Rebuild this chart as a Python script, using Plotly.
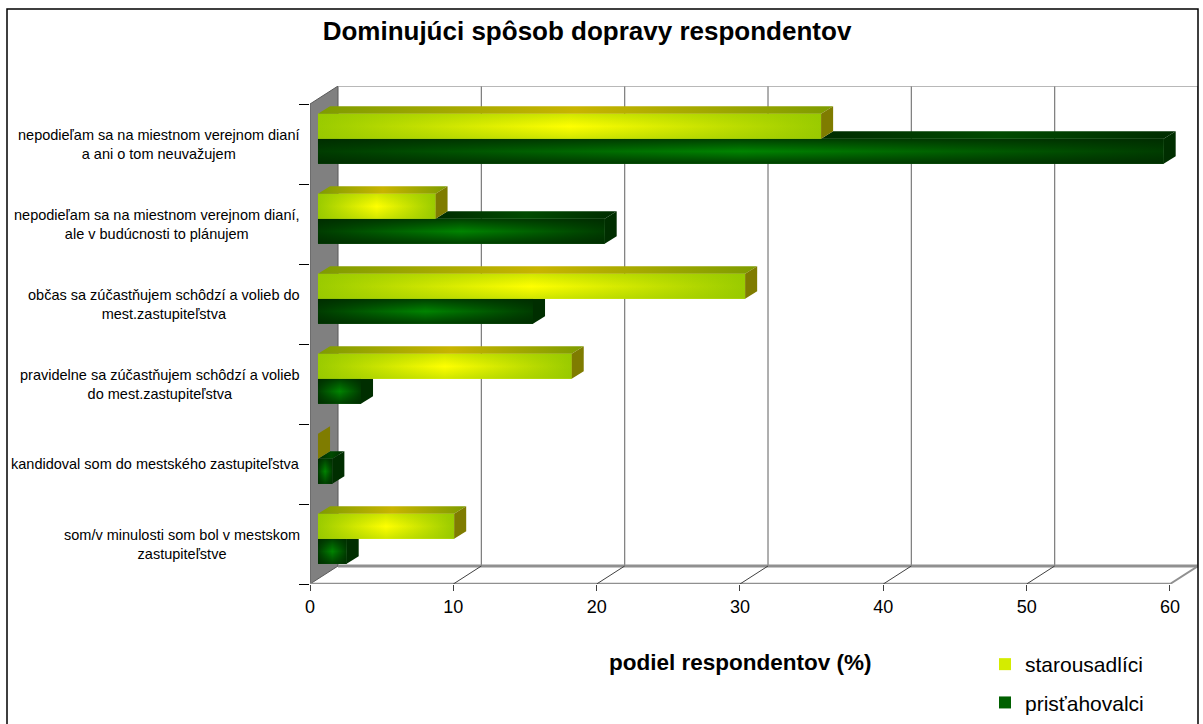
import plotly.graph_objects as go

# ---------------- data ----------------
categories = [
    "nepodieľam sa na miestnom verejnom dianí<br>a ani o tom neuvažujem",
    "nepodieľam sa na miestnom verejnom dianí,<br>ale v budúcnosti to plánujem",
    "občas sa zúčastňujem schôdzí a volieb do<br>mest.zastupiteľstva",
    "pravidelne sa zúčastňujem schôdzí a volieb<br>do mest.zastupiteľstva",
    "kandidoval som do mestského zastupiteľstva",
    "som/v minulosti som bol v mestskom<br>zastupiteľstve",
]
series_names = ["starousadlíci", "prisťahovalci"]
starousadlici = [35.1, 8.2, 29.8, 17.7, 0.0, 9.5]
pristahovalci = [59.0, 20.0, 15.0, 3.0, 1.0, 2.0]
x_ticks = [0, 10, 20, 30, 40, 50, 60]
title_text = "Dominujúci spôsob dopravy respondentov"
x_title = "podiel respondentov (%)"

# ---------------- geometry (styling, not data) ----------------
W, H = 1203, 724
ML, MR, MT, MB = 310, 5, 86, 140
XMAX = x_ticks[-1]
NCAT = len(categories)
DX, DY = 1.955, 0.225          # oblique depth of the 3-D box (axis units)
D0, BD = 0.285, 0.43           # bar depth start and bar depth (fraction of box depth)
BW = 0.3125                    # bar thickness (category units)
bx0, by0 = D0 * DX, D0 * DY
bdx, bdy = BD * DX, BD * DY

FONT = "Arial, Liberation Sans, sans-serif"
pos = [NCAT - 0.5 - i for i in range(NCAT)]
ypos = [p + by0 for p in pos]

Y_EDGE, Y_MID = "#9acb00", "#ffff00"
G_EDGE, G_MID = "#003c00", "#008400"

fig = go.Figure()

# main bars (front faces)
fig.add_trace(go.Bar(
    name=series_names[0], y=ypos, x=starousadlici, base=bx0, orientation="h",
    offset=0, width=BW, marker=dict(color="#d4ec00", line=dict(width=0)),
    legendgroup="a", hoverinfo="x"))
fig.add_trace(go.Bar(
    name=series_names[1], y=ypos, x=pristahovalci, base=bx0, orientation="h",
    offset=-BW, width=BW, marker=dict(color="#006000", line=dict(width=0)),
    legendgroup="b", hoverinfo="x"))


def poly(xs, ys, cs=None, gtype="horizontal", color=None):
    kw = dict(x=xs + [xs[0]], y=ys + [ys[0]], mode="lines", fill="toself",
              line=dict(width=0), hoverinfo="skip", showlegend=False)
    if cs is not None:
        if gtype == "horizontal":
            st, sp = min(xs), max(xs)
        else:
            st, sp = min(ys), max(ys)
        kw["fillgradient"] = dict(type=gtype, colorscale=cs, start=st, stop=sp)
    else:
        kw["fillcolor"] = color
    fig.add_trace(go.Scatter(**kw))


for i in range(NCAT):
    yv, gv = starousadlici[i], pristahovalci[i]
    gt = ypos[i]
    gb = gt - BW
    yt = gt + BW
    xg = bx0 + gv
    xy = bx0 + yv

    # ---- green bar ----
    if gv > 0:
        poly([bx0, xg, xg, bx0], [gb, gb, gt, gt],
             [[0, G_EDGE], [0.5, G_MID], [1, G_EDGE]])
        poly([bx0, xg, xg, bx0], [gb, gb, gt, gt],
             [[0, "rgba(0,40,0,0.75)"], [0.5, "rgba(0,40,0,0)"], [1, "rgba(0,40,0,0.75)"]],
             gtype="vertical")
    if gv > yv:
        x_start = max(xy, bx0)
        poly([x_start, xg, xg + bdx, x_start + bdx], [gt, gt, gt + bdy, gt + bdy],
             [[0, "#002c00"], [0.5, "#004a00"], [1, "#002c00"]])
    if yv >= gv + bdx:
        poly([xg, xg, xg + bdx, xg + bdx], [gb, gt, gt, gb + bdy], color="#002e00")
    elif yv <= gv:
        poly([xg, xg, xg + bdx, xg + bdx], [gb, gt, gt + bdy, gb + bdy], color="#002e00")
    else:
        poly([xg, xg, xy, xg + bdx, xg + bdx],
             [gb, gt, gt, gt + (xg + bdx - xy) / bdx * bdy, gb + bdy], color="#002e00")

    # ---- yellow bar ----
    if yv > 0:
        poly([bx0, xy, xy, bx0], [gt, gt, yt, yt],
             [[0, Y_EDGE], [0.5, Y_MID], [1, Y_EDGE]])
        poly([bx0, xy, xy, bx0], [gt, gt, yt, yt],
             [[0, "rgba(150,200,0,0.45)"], [0.5, "rgba(150,200,0,0)"], [1, "rgba(150,200,0,0.45)"]],
             gtype="vertical")
        poly([bx0, xy, xy + bdx, bx0 + bdx], [yt, yt, yt + bdy, yt + bdy],
             [[0, "#7e9c00"], [0.5, "#c8b400"], [1, "#7e9c00"]])
    poly([xy, xy, xy + bdx, xy + bdx], [gt, yt, yt + bdy, gt + bdy], color="#7f7c00")

# ---------------- 3-D frame (walls / floor / grid) ----------------
shapes = []
TOP = NCAT
shapes.append(dict(type="path", xref="x", yref="y", layer="below",
                   path=f"M 0,0 L {DX},{DY} L {DX},{TOP+DY} L 0,{TOP} Z",
                   fillcolor="#808080", line=dict(color="#5a5a5a", width=1)))
for v in x_ticks[1:]:
    shapes.append(dict(type="line", xref="x", yref="y", layer="below",
                       x0=v + DX, x1=v + DX, y0=DY, y1=TOP + DY,
                       line=dict(color="#7a7a7a", width=1.2)))
shapes.append(dict(type="line", xref="x", yref="y", layer="below",
                   x0=DX, x1=XMAX + DX, y0=TOP + DY, y1=TOP + DY,
                   line=dict(color="#a0a0a0", width=1.5)))
shapes.append(dict(type="line", xref="x", yref="y", layer="below",
                   x0=DX, x1=XMAX + DX, y0=DY, y1=DY,
                   line=dict(color="#909090", width=3)))
shapes.append(dict(type="line", xref="x", yref="y", layer="below",
                   x0=0, x1=XMAX, y0=0, y1=0,
                   line=dict(color="#909090", width=2.5)))
for v in x_ticks[1:]:
    shapes.append(dict(type="line", xref="x", yref="y", layer="below",
                       x0=v, x1=v + DX, y0=0, y1=DY,
                       line=dict(color="#404040" if v < XMAX else "#909090",
                                 width=1 if v < XMAX else 2)))
pw, ph = W - ML - MR, H - MT - MB
shapes.append(dict(type="rect", xref="paper", yref="paper",
                   x0=(7 - ML) / pw, x1=(1198 - ML) / pw,
                   y0=(H - MB - 760) / ph, y1=(H - MB - 9) / ph,
                   line=dict(color="#000000", width=1.5), fillcolor="rgba(0,0,0,0)"))

# ---------------- annotations ----------------
annotations = []
for i, lab in enumerate(categories):
    annotations.append(dict(text=lab, xref="x", yref="y", x=0, y=pos[i],
                            xanchor="right", yanchor="middle", align="center",
                            xshift=-8, showarrow=False,
                            font=dict(family=FONT, size=14.5, color="#000000")))
annotations.append(dict(text=f"<b>{x_title}</b>", xref="paper", yref="paper",
                        x=(740 - ML) / pw, y=(H - MB - 662) / ph,
                        xanchor="center", yanchor="middle", showarrow=False,
                        font=dict(family=FONT, size=22.5, color="#000000")))

fig.update_layout(
    width=W, height=H,
    margin=dict(l=ML, r=MR, t=MT, b=MB, autoexpand=False),
    paper_bgcolor="white", plot_bgcolor="white",
    barmode="overlay",
    title=dict(text=f"<b>{title_text}</b>", x=587 / W, y=1 - 31 / H,
               xref="container", yref="container", xanchor="center", yanchor="middle",
               font=dict(family=FONT, size=26, color="#000000")),
    xaxis=dict(range=[0, XMAX + DX], tickvals=x_ticks, ticktext=[str(t) for t in x_ticks],
               showgrid=False, zeroline=False, showline=False,
               ticks="outside", ticklen=6, tickcolor="#404040", tickwidth=1,
               tickfont=dict(family=FONT, size=18, color="#000000"), fixedrange=True),
    yaxis=dict(range=[0, NCAT + DY], tickvals=list(range(NCAT + 1)),
               showticklabels=False, showgrid=False, zeroline=False, showline=False,
               ticks="outside", ticklen=10, tickcolor="#000000", tickwidth=1,
               fixedrange=True),
    showlegend=True,
    legend=dict(xref="container", yref="container", x=985 / W, y=1 - 644 / H,
                xanchor="left", yanchor="top", orientation="v",
                traceorder="grouped", tracegroupgap=8,
                font=dict(family=FONT, size=21, color="#000000"),
                bgcolor="rgba(0,0,0,0)"),
    shapes=shapes, annotations=annotations,
)

fig.write_html("out.html", config={"displayModeBar": False},
               post_script="document.body.style.margin='0';document.body.style.overflow='hidden';")
